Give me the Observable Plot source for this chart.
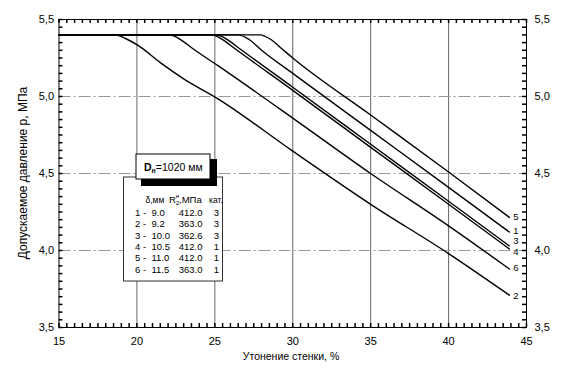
<!DOCTYPE html>
<html>
<head>
<meta charset="utf-8">
<script src="https://cdn.jsdelivr.net/npm/d3@7"></script>
<script src="https://cdn.jsdelivr.net/npm/@observablehq/plot@0.6"></script>
<style>
  html, body { margin: 0; padding: 0; background: #fff; }
  svg { display: block; }
</style>
</head>
<body>
<div id="chart"></div>
<script>
// ---- data ----
const curveIds = ["1", "2", "3", "4", "5", "6"];
const c1x = [15, 26.5, 27.2, 28.0, 30, 35, 40, 43.9];
const c1y = [5.4, 5.4, 5.37, 5.30, 5.15, 4.78, 4.41, 4.12];
const c2x = [15, 18.6, 19.3, 20.1, 21.5, 23.0, 25.2, 30, 35, 40, 43.9];
const c2y = [5.4, 5.4, 5.375, 5.33, 5.22, 5.115, 4.985, 4.645, 4.30, 3.98, 3.71];
const c3x = [15, 25.1, 25.8, 26.6, 30, 35, 40, 43.9];
const c3y = [5.4, 5.4, 5.37, 5.31, 5.06, 4.69, 4.32, 4.03];
const c4x = [15, 24.8, 25.5, 26.3, 30, 35, 40, 43.9];
const c4y = [5.4, 5.4, 5.37, 5.31, 5.04, 4.67, 4.30, 4.01];
const c5x = [15, 27.9, 28.6, 29.3, 30, 35, 40, 43.9];
const c5y = [5.4, 5.4, 5.37, 5.31, 5.25, 4.88, 4.51, 4.215];
const c6x = [15, 22.1, 22.8, 23.6, 25.2, 30, 35, 40, 43.9];
const c6y = [5.4, 5.4, 5.37, 5.31, 5.20, 4.86, 4.50, 4.16, 3.88];

const endLabels = ["5", "1", "3", "4", "6", "2"];
const endLabelY = [4.216, 4.125, 4.062, 3.993, 3.888, 3.708];
const endLabelX = 44.15;

const xTicks = [15, 20, 25, 30, 35, 40, 45];
const yTicks = [3.5, 4.0, 4.5, 5.0, 5.5];
const xGrid = [20, 25, 30, 35, 40];
const yGrid = [4.0, 4.5, 5.0];

// legend table
const tableNums = ["1", "2", "3", "4", "5", "6"];
const tableDelta = ["9.0", "9.2", "10.0", "10.5", "11.0", "11.5"];
const tableR = ["412.0", "363.0", "362.6", "412.0", "412.0", "363.0"];
const tableCat = ["3", "3", "3", "1", "1", "1"];

// ---- build table for Plot ----
const xs = [c1x, c2x, c3x, c4x, c5x, c6x];
const ys = [c1y, c2y, c3y, c4y, c5y, c6y];
const rows = [];
curveIds.forEach((id, i) => xs[i].forEach((x, j) => rows.push({id, x, y: ys[i][j]})));
const labelRows = endLabels.map((t, i) => ({t, x: endLabelX, y: endLabelY[i]}));

const xMin = 15, xMax = 45, yMin = 3.5, yMax = 5.5;
const xMinor = d3.range(0, 61).map(i => xMin + i * 0.5);
const yMinor = d3.range(0, 41).map(i => yMin + i * 0.05);
const fmtY = d => d.toFixed(1).replace(".", ",");

const W = 571, H = 368;
const mL = 58.5, mR = 45, mT = 19, mB = 41;
const TL = 4; // inward minor tick length, px

const chart = Plot.plot({
  width: W, height: H,
  marginLeft: mL, marginRight: mR, marginTop: mT, marginBottom: mB,
  style: {fontFamily: "'Liberation Sans', Arial, sans-serif", fontSize: "11px", background: "#fff", color: "#000"},
  x: {domain: [xMin, xMax]},
  y: {domain: [yMin, yMax]},
  marks: [
    Plot.ruleX(xGrid, {stroke: "#555", strokeWidth: 0.9}),
    Plot.ruleY(yGrid, {stroke: "#999", strokeWidth: 1, strokeDasharray: "12,3,2,3"}),
    // inward minor ticks on all four sides
    Plot.tickY(yMinor, {y: d => d, stroke: "#000", strokeWidth: 1.5, insetRight: W - mL - mR - TL}),
    Plot.tickY(yMinor, {y: d => d, stroke: "#000", strokeWidth: 1.5, insetLeft: W - mL - mR - TL}),
    Plot.tickX(xMinor, {x: d => d, stroke: "#000", strokeWidth: 1.5, insetTop: H - mT - mB - TL}),
    Plot.tickX(xMinor, {x: d => d, stroke: "#000", strokeWidth: 1.5, insetBottom: H - mT - mB - TL}),
    Plot.axisY(yTicks, {anchor: "left", tickSize: 0, tickPadding: 5, tickFormat: fmtY, label: null}),
    Plot.axisY(yTicks, {anchor: "right", tickSize: 0, tickPadding: 8, tickFormat: fmtY, label: null}),
    Plot.axisX(xTicks, {anchor: "bottom", tickSize: 0, tickPadding: 10, tickFormat: d => String(d), label: null}),
    Plot.frame({stroke: "#000", strokeWidth: 1}),
    Plot.line(rows, {x: "x", y: "y", z: "id", stroke: "#000", strokeWidth: 1.4, curve: "monotone-x"}),
    Plot.text(labelRows, {x: "x", y: "y", text: "t", textAnchor: "start", fontSize: 9.5, fill: "#000"})
  ]
});
document.getElementById("chart").appendChild(chart);

const svg = d3.select(chart);
const font = "'Liberation Sans', Arial, sans-serif";

// ---- titles ----
svg.append("text")
  .attr("transform", "translate(27,173) rotate(-90)")
  .attr("text-anchor", "middle")
  .attr("font-family", font).attr("font-size", 12)
  .text("Допускаемое давление р, МПа");

svg.append("text")
  .attr("x", 291).attr("y", 360)
  .attr("text-anchor", "middle")
  .attr("font-family", font).attr("font-size", 10.5)
  .text("Утонение стенки, %");

// ---- legend boxes ----
const g = svg.append("g").attr("font-family", font).attr("text-anchor", "start");
g.append("rect").attr("x", 123.5).attr("y", 177).attr("width", 99).attr("height", 104)
  .attr("fill", "#fff").attr("stroke", "#333").attr("stroke-width", 1);
g.append("rect").attr("x", 141).attr("y", 159).attr("width", 76).attr("height", 27).attr("fill", "#000");
g.append("rect").attr("x", 136).attr("y", 154).attr("width", 74).attr("height", 25)
  .attr("fill", "#fff").attr("stroke", "#000").attr("stroke-width", 1);
const dt = g.append("text").attr("x", 144).attr("y", 170.5).attr("font-size", 10.5).attr("font-weight", "bold");
dt.append("tspan").text("D");
dt.append("tspan").attr("font-size", 7).attr("dy", 2.5).text("н");
dt.append("tspan").attr("dy", -2.5).attr("font-weight", "normal").text("=1020 мм");

const hy = 202.5;
g.append("text").attr("x", 145.5).attr("y", hy).attr("font-size", 8.5).text("δ,мм");
const rt = g.append("text").attr("x", 169).attr("y", hy).attr("font-size", 9.5);
rt.append("tspan").text("R");
rt.append("tspan").attr("font-size", 6).attr("dy", 2.5).text("2");
rt.append("tspan").attr("font-size", 6).attr("dx", -3.5).attr("dy", -7).text("н");
rt.append("tspan").attr("dy", 4.5).text(",МПа");
g.append("text").attr("x", 209).attr("y", hy).attr("font-size", 8.5).text("кат.");

tableNums.forEach((n, i) => {
  const by = 216 + i * 11.35;
  g.append("text").attr("x", 135).attr("y", by).attr("font-size", 9.5).text(n + " -");
  g.append("text").attr("x", 151.5).attr("y", by).attr("font-size", 9.5).text(tableDelta[i]);
  g.append("text").attr("x", 202.5).attr("y", by).attr("font-size", 9.5).attr("text-anchor", "end").text(tableR[i]);
  g.append("text").attr("x", 216.5).attr("y", by).attr("font-size", 9.5).attr("text-anchor", "middle").text(tableCat[i]);
});
</script>
</body>
</html>
